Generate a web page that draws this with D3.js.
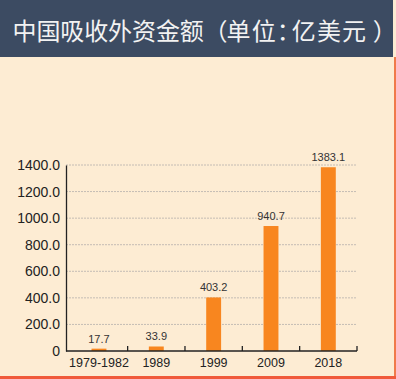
<!DOCTYPE html>
<html><head><meta charset="utf-8">
<script src="https://cdn.jsdelivr.net/npm/d3@7"></script>
<style>
html,body{margin:0;padding:0;background:#fdecd3;}
svg{display:block;}
</style></head>
<body>
<script>
const title = "中国吸收外资金额（单位：亿美元）";
const categories = ["1979-1982", "1989", "1999", "2009", "2018"];
const values = [17.7, 33.9, 403.2, 940.7, 1383.1];
const valueLabels = ["17.7", "33.9", "403.2", "940.7", "1383.1"];
const yTicks = [0, 200, 400, 600, 800, 1000, 1200, 1400];

const W = 396, H = 379;
const svg = d3.select("body").append("svg").attr("width", W).attr("height", H);

svg.append("rect").attr("x",0).attr("y",0).attr("width",W).attr("height",H).attr("fill","#fdecd3");
// title bar
svg.append("rect").attr("x",0).attr("y",0).attr("width",393).attr("height",57).attr("fill","#3c4b62");
// per-glyph advances (layout of the title's glyphs)
const chars = Array.from(title);
const adv = {"（":[23.6,23.1], "：":[25,15], "）":[30.7,0]};
let cx = 24.5; const centers = [];
chars.forEach((c,i)=>{
  if(i>0){
    const prev = chars[i-1];
    let a = 23.9;
    if(adv[c]) a = adv[c][0];
    else if(adv[prev]) a = adv[prev][1];
    else if(i>8) a = 25.2;
    cx += a;
  }
  centers.push(cx);
});
svg.append("g").selectAll("text").data(chars).join("text")
  .attr("x",(d,i)=>centers[i]).attr("y",39.8)
  .attr("text-anchor","middle")
  .attr("font-family","'Noto Sans CJK SC', sans-serif").attr("font-size",24)
  .attr("fill","#f2f2f2").text(d=>d);
// borders
svg.append("rect").attr("x",394).attr("y",57).attr("width",2).attr("height",H-57).attr("fill","#f07a4a");
svg.append("rect").attr("x",0).attr("y",376).attr("width",W).attr("height",3).attr("fill","#f05a3a");

const axL = 66, bandL = 70.3, bandR = 357, y0 = 351, yTop = 165;
const x = d3.scaleBand().domain(categories).range([bandL, bandR]).paddingInner(0.74).paddingOuter(0.37);
const y = d3.scaleLinear().domain([0, 1400]).range([y0, yTop]);

// gridlines
svg.append("g").selectAll("line").data(yTicks.filter(d=>d>0)).join("line")
  .attr("x1", axL).attr("x2", bandR).attr("y1", d=>y(d)).attr("y2", d=>y(d))
  .attr("stroke","#c4bcb4").attr("stroke-width",1).attr("stroke-dasharray","2,1");

// y axis
const yAxis = d3.axisLeft(y).tickValues(yTicks).tickSize(0).tickPadding(6)
  .tickFormat(d => d === 0 ? "0" : d3.format(".1f")(d));
const gy = svg.append("g").attr("transform",`translate(${axL},0)`).call(yAxis);
gy.select(".domain").attr("stroke","#222").attr("stroke-width",1.3);
gy.selectAll("text").attr("font-family","'Liberation Sans', Arial, sans-serif").attr("font-size",14).attr("fill","#222");

// bars
svg.append("g").selectAll("rect").data(values).join("rect")
  .attr("x",(d,i)=>x(categories[i])).attr("width",x.bandwidth())
  .attr("y",d=>y(d)).attr("height",d=>y0-y(d)).attr("fill","#f8861f");

// value labels
svg.append("g").selectAll("text").data(values).join("text")
  .attr("x",(d,i)=>x(categories[i])+x.bandwidth()/2).attr("y",d=>y(d)-6)
  .attr("text-anchor","middle").attr("font-family","'Liberation Sans', Arial, sans-serif")
  .attr("font-size",11).attr("fill","#333").text((d,i)=>valueLabels[i]);

// x axis
const step = (bandR - bandL)/categories.length;
const xAxisG = svg.append("g");
xAxisG.append("line").attr("x1",axL).attr("x2",bandR).attr("y1",y0).attr("y2",y0).attr("stroke","#222").attr("stroke-width",1.3);
xAxisG.selectAll("line.tk").data(categories.slice(1).concat(["end"])).join("line").attr("class","tk")
  .attr("x1",(d,i)=>bandL+step*(i+1)).attr("x2",(d,i)=>bandL+step*(i+1))
  .attr("y1",y0).attr("y2",y0-5).attr("stroke","#222").attr("stroke-width",1.3);
xAxisG.selectAll("text").data(categories).join("text")
  .attr("x",d=>x(d)+x.bandwidth()/2).attr("y",367)
  .attr("text-anchor","middle").attr("font-family","'Liberation Sans', Arial, sans-serif")
  .attr("font-size",12.5).attr("fill","#222").text(d=>d);
</script>
</body></html>
